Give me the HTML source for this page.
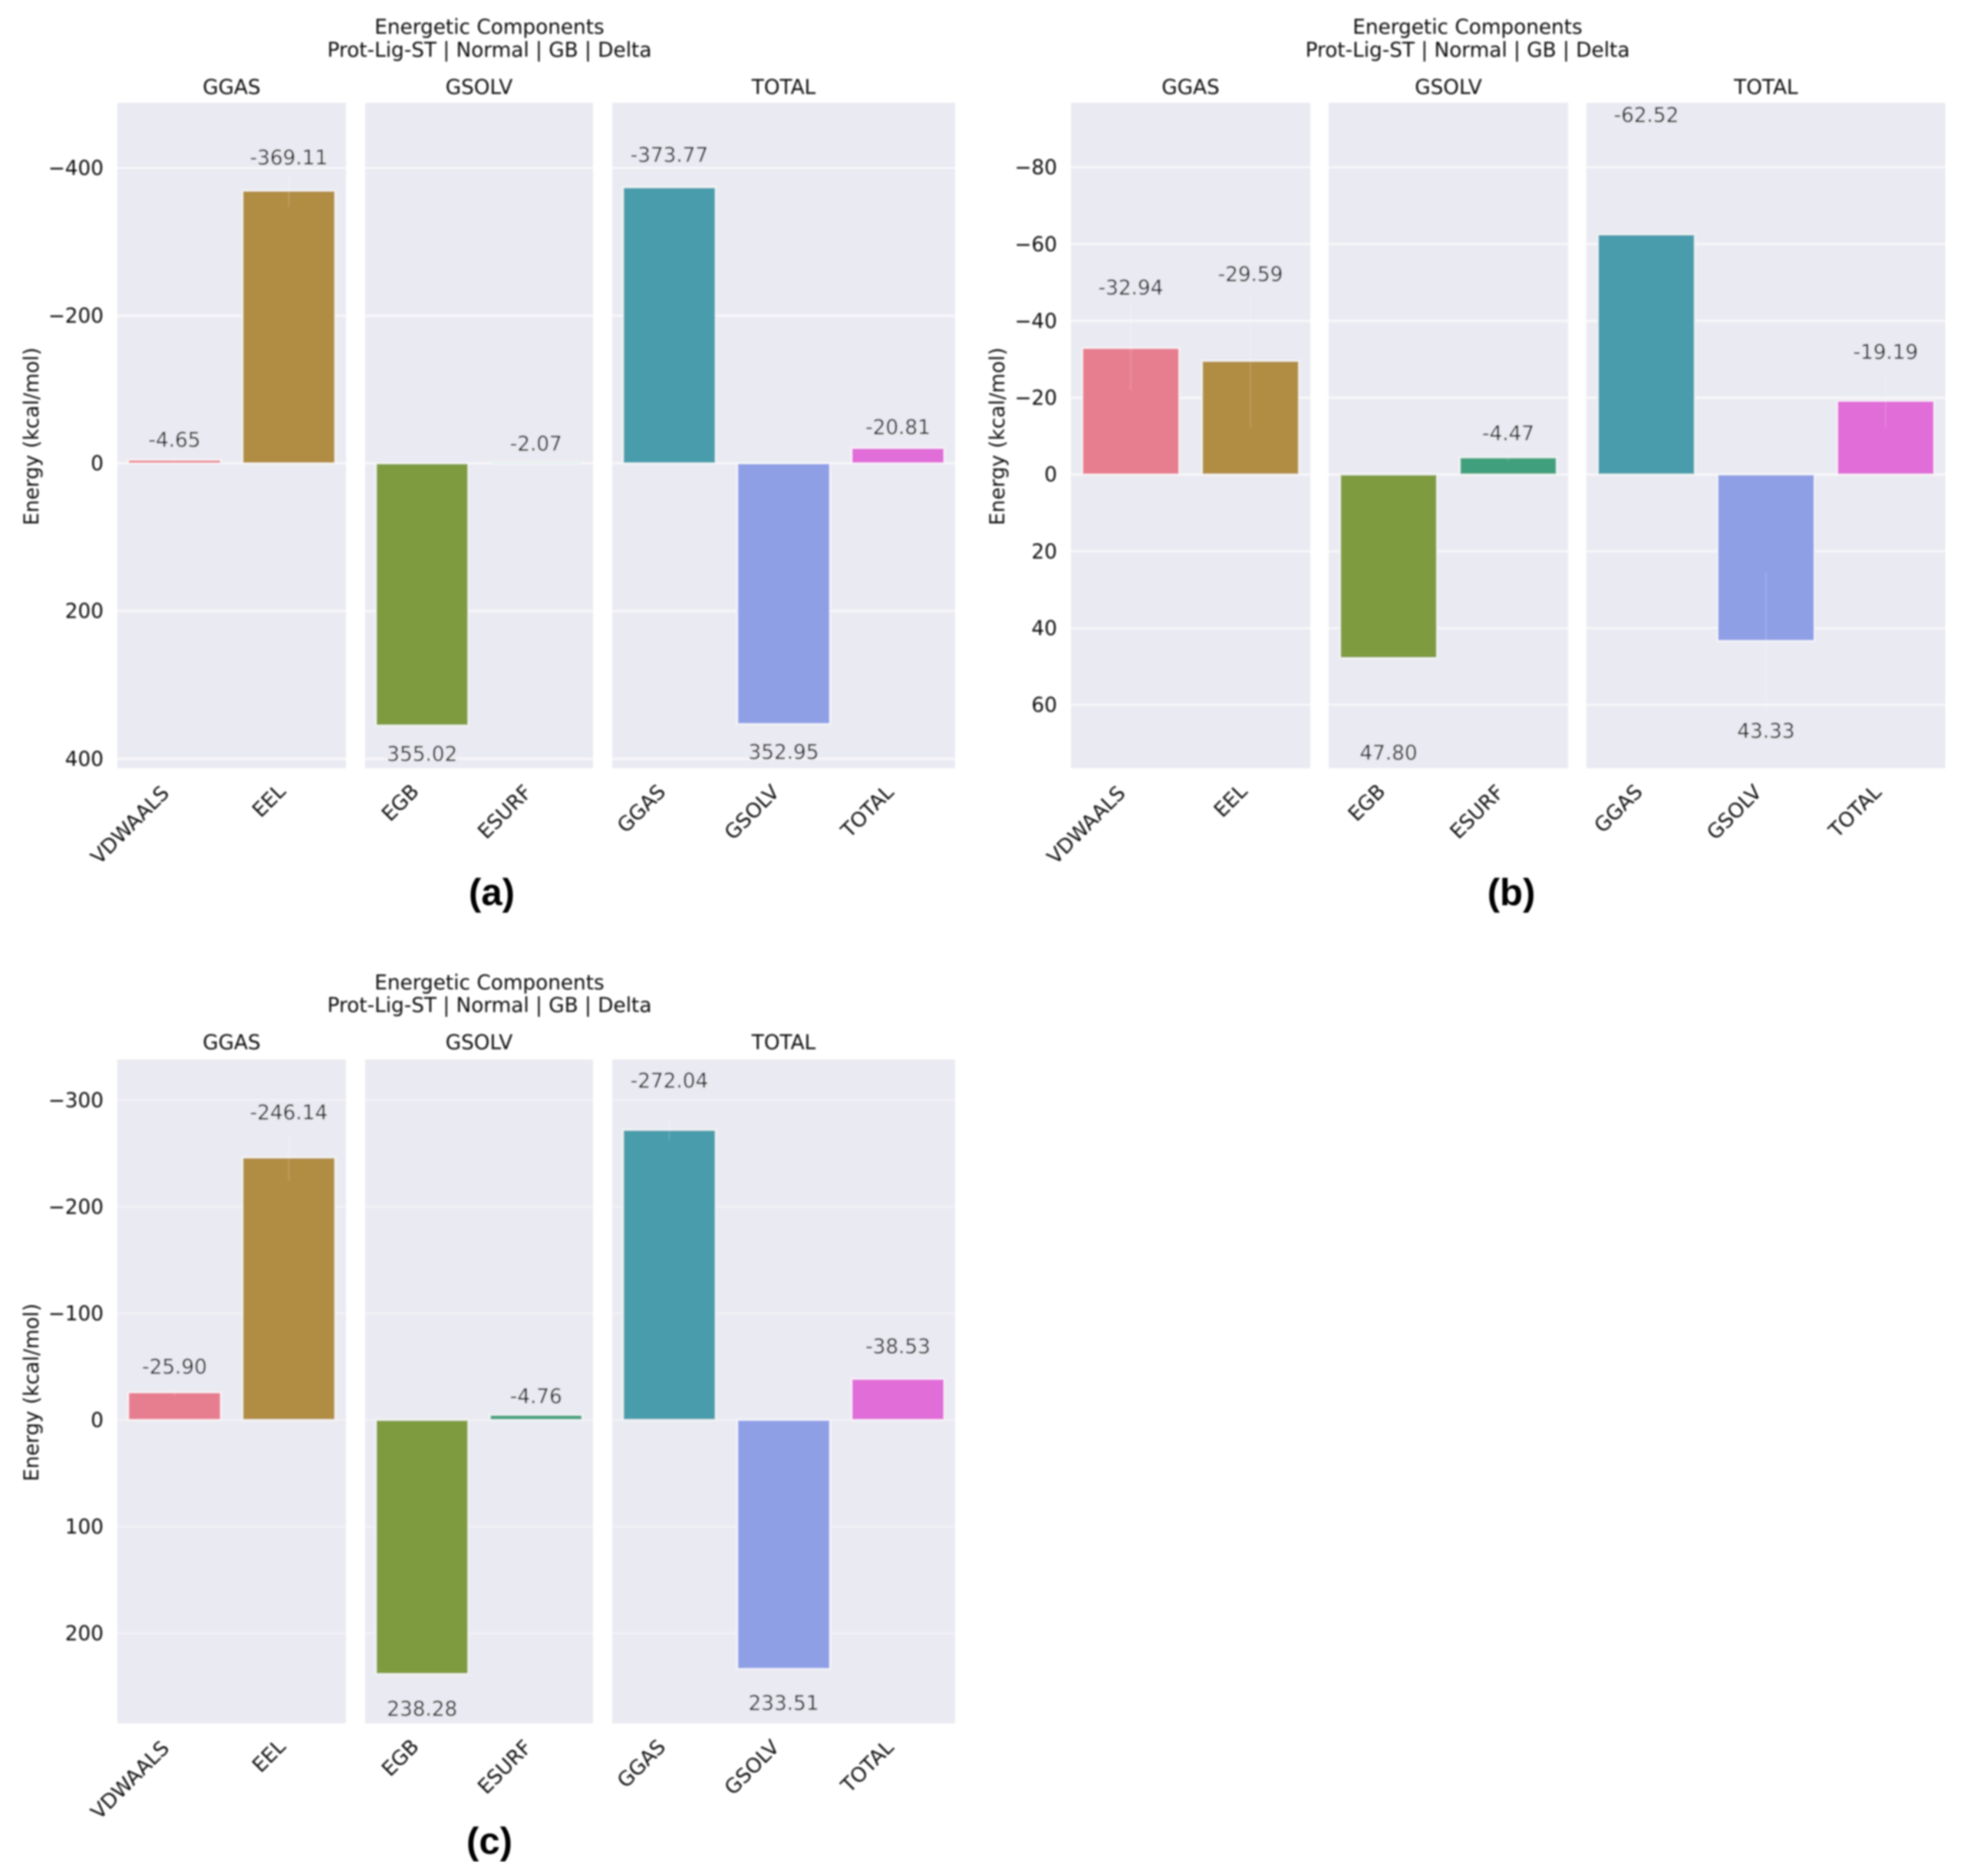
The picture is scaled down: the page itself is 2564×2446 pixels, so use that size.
<!DOCTYPE html>
<html lang="en">
<head>
<meta charset="utf-8">
<title>Energetic Components</title>
<style>
html,body{margin:0;padding:0;background:#fff;}
svg{display:block;}
text{font-family:"DejaVu Sans","Liberation Sans",sans-serif;fill:#0e0e0e;font-size:26.3px;}
.panel-letter{font-family:"Liberation Sans",sans-serif;font-weight:bold;font-size:49px;fill:#000;text-anchor:middle;}
</style>
</head>
<body>
<svg id="figure" xmlns="http://www.w3.org/2000/svg" width="2564" height="2446" viewBox="0 0 2564 2446">
  <defs><filter id="soft" x="0" y="0" width="100%" height="100%"><feGaussianBlur stdDeviation="1"/></filter></defs>
  <rect width="2564" height="2446" fill="#fff"/>
  <g id="root" filter="url(#soft)">
    <text class="panel-letter" x="641" y="1180">(a)</text>
    <text class="panel-letter" x="1970" y="1180">(b)</text>
    <text class="panel-letter" x="638" y="2417">(c)</text>
  </g>
</svg>
<script>
const facetTitles = ['GGAS', 'GSOLV', 'TOTAL'];
const categoriesGgas = ['VDWAALS', 'EEL'];
const categoriesGsolv = ['EGB', 'ESURF'];
const categoriesTotal = ['GGAS', 'GSOLV', 'TOTAL'];
const coloursGgas = ['#E67E90', '#B08D42'];
const coloursGsolv = ['#7E9B40', '#40A07E'];
const coloursTotal = ['#489CAB', '#8F9FE5', '#E06DD8'];

const ticksA = [-400, -200, 0, 200, 400];
const ticksB = [-80, -60, -40, -20, 0, 20, 40, 60];
const ticksC = [-300, -200, -100, 0, 100, 200];

const valuesAGgas = [-4.65, -369.11];
const valuesAGsolv = [355.02, -2.07];
const valuesATotal = [-373.77, 352.95, -20.81];
const valuesBGgas = [-32.94, -29.59];
const valuesBGsolv = [47.80, -4.47];
const valuesBTotal = [-62.52, 43.33, -19.19];
const valuesCGgas = [-25.90, -246.14];
const valuesCGsolv = [238.28, -4.76];
const valuesCTotal = [-272.04, 233.51, -38.53];

/* spread of the faint error whiskers, in kcal/mol */
const errorsAGgas = [3, 22];
const errorsAGsolv = [0, 1];
const errorsATotal = [0, 0, 0];
const errorsBGgas = [11, 17.5];
const errorsBGsolv = [0, 1];
const errorsBTotal = [0, 18, 7];
const errorsCGgas = [3, 22];
const errorsCGsolv = [0, 1];
const errorsCTotal = [10, 0, 0];

/* distance between bar end and its printed value, in kcal/mol */
const labelGapsAGgas = [27.5, 45.2];
const labelGapsAGsolv = [37.9, 25.2];
const labelGapsATotal = [44.5, 37.5, 28.4];
const labelGapsBGgas = [15.8, 22.7];
const labelGapsBGsolv = [24.6, 6.3];
const labelGapsBTotal = [31.2, 23.3, 12.8];
const labelGapsCGgas = [24.2, 42.6];
const labelGapsCGsolv = [32.4, 17.8];
const labelGapsCTotal = [46.5, 31.7, 30.7];

const charts = [
  { id: 'a', domain: [-488.2, 412.9], ticks: ticksA, gridColour: '#F8F8FB',
    top: 134, bottom: 1001.7, tickRight: 135, yTitleX: 41, yTitleY: 569,
    titleX: 638, titleY1: 35, titleY2: 65, facetTitleY: 113,
    spans: [[153, 451], [476, 773], [798, 1245]],
    values: [valuesAGgas, valuesAGsolv, valuesATotal],
    errors: [errorsAGgas, errorsAGsolv, errorsATotal],
    gaps: [labelGapsAGgas, labelGapsAGsolv, labelGapsATotal] },
  { id: 'b', domain: [-96.8, 76.5], ticks: ticksB, gridColour: '#F8F8FB',
    top: 134, bottom: 1001.7, tickRight: 1378, yTitleX: 1300, yTitleY: 569,
    titleX: 1913, titleY1: 35, titleY2: 65, facetTitleY: 113,
    spans: [[1396, 1708], [1732, 2044], [2068, 2536]],
    values: [valuesBGgas, valuesBGsolv, valuesBTotal],
    errors: [errorsBGgas, errorsBGsolv, errorsBTotal],
    gaps: [labelGapsBGgas, labelGapsBGsolv, labelGapsBTotal] },
  { id: 'c', domain: [-338, 284.6], ticks: ticksC, gridColour: '#F1F1F6',
    top: 1381.5, bottom: 2247, tickRight: 135, yTitleX: 41, yTitleY: 1815.5,
    titleX: 638, titleY1: 1281, titleY2: 1310.5, facetTitleY: 1358.6,
    spans: [[153, 451], [476, 773], [798, 1245]],
    values: [valuesCGgas, valuesCGsolv, valuesCTotal],
    errors: [errorsCGgas, errorsCGsolv, errorsCTotal],
    gaps: [labelGapsCGgas, labelGapsCGsolv, labelGapsCTotal] }
];

const categorySets = [categoriesGgas, categoriesGsolv, categoriesTotal];
const colourSets = [coloursGgas, coloursGsolv, coloursTotal];
const NS = 'http://www.w3.org/2000/svg';
const root = document.getElementById('root');

function make(tag, attrs, parent, content) {
  const el = document.createElementNS(NS, tag);
  for (const key in attrs) el.setAttribute(key, attrs[key]);
  if (content !== undefined) el.textContent = content;
  parent.appendChild(el);
  return el;
}

function yAxis(chart) {
  const span = chart.domain[1] - chart.domain[0];
  return v => chart.top + (v - chart.domain[0]) / span * (chart.bottom - chart.top);
}

function xBand(left, right, count) {
  const band = (right - left) / count;
  return { centre: i => left + (i + 0.5) * band, width: band * 0.81 };
}

function tickText(v) {
  return v < 0 ? '\u2212' + Math.abs(v) : String(v);
}

function drawChart(chart) {
  const y = yAxis(chart);
  const group = make('g', {}, root);
  
  

  const title1 = make('text', { x: chart.titleX, y: chart.titleY1 + 9, 'text-anchor': 'middle' }, group, 'Energetic Components');
  
  
  const title2 = make('text', { x: chart.titleX, y: chart.titleY2 + 9, 'text-anchor': 'middle' }, group, 'Prot-Lig-ST | Normal | GB | Delta');
  
  

  const yTitle = make('text', { x: chart.yTitleX + 1, y: chart.yTitleY, 'text-anchor': 'middle', 'dominant-baseline': 'central', transform: 'rotate(-90 ' + (chart.yTitleX + 1) + ' ' + chart.yTitleY + ')' }, group, 'Energy (kcal/mol)');
  
  

  chart.ticks.forEach(t => {
    const label = make('text', { x: chart.tickRight, y: y(t) + 9, 'text-anchor': 'end' }, group, tickText(t));
    
    
  });

  chart.spans.forEach((span, p) => {
    const left = span[0], right = span[1];
    const cats = categorySets[p];
    const colours = colourSets[p];
    const vals = chart.values[p];
    const errs = chart.errors[p];
    const gaps = chart.gaps[p];
    const x = xBand(left, right, cats.length);

    const bg = make('rect', { x: left, y: chart.top, width: right - left, height: chart.bottom - chart.top, fill: '#EAEAF2' }, group);
    
    

    const facetTitle = make('text', { x: (left + right) / 2, y: chart.facetTitleY + 9.5, 'text-anchor': 'middle' }, group, facetTitles[p]);
    
    

    chart.ticks.forEach(t => {
      const grid = make('line', { x1: left, x2: right, y1: y(t), y2: y(t), stroke: chart.gridColour, 'stroke-width': 2.6 }, group);
      
      
    });

    vals.forEach((v, i) => {
      const cx = x.centre(i);
      const yv = y(v), y0 = y(0);
      const bar = make('rect', { x: cx - x.width / 2, y: Math.min(yv, y0), width: x.width, height: Math.abs(yv - y0), fill: colours[i], stroke: 'rgba(255,255,255,0.8)', 'stroke-width': 2 }, group);
      
      

      if (errs[i] > 0) {
        const whisker = make('line', { x1: cx, x2: cx, y1: y(v - errs[i]), y2: y(v + errs[i]), stroke: 'rgba(255,255,255,0.14)', 'stroke-width': 2 }, group);
        
        
      }

      const sign = v < 0 ? -1 : 1;
      const value = make('text', { x: cx, y: y(v + sign * gaps[i]) + 9.5, 'text-anchor': 'middle' }, group, v.toFixed(2));
      
      

      const extra = 7 - cats[i].length;
      const ax = cx - 5.5 + extra * 0.7, ay = chart.bottom + 34 - extra * 0.6;
      const tick = make('text', { x: ax, y: ay, 'text-anchor': 'end', transform: 'rotate(-45 ' + ax + ' ' + ay + ')' }, group, cats[i]);
      
      
    });
  });
}

charts.forEach(drawChart);
</script>
</body>
</html>
